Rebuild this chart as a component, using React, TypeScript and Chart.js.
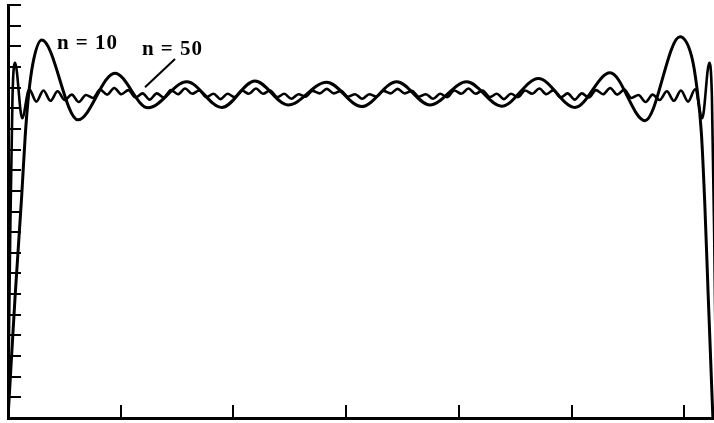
import React, { useEffect, useRef } from 'react';
import { Chart, registerables } from 'chart.js';

Chart.register(...registerables);

// ---- axis ranges / tick steps ----
const X_MIN = 0;
const X_MAX = Math.PI;
const X_STEP = 0.5;
const Y_MIN = 0;
const Y_MAX = 1;
const Y_STEP = 0.05;

// ---- series n = 10 ----
const n10X = [
  0, 0.031, 0.061, 0.076, 0.089, 0.111, 0.150, 0.310, 0.474, 0.621, 0.793, 0.948,
  1.095, 1.242, 1.413, 1.568, 1.724, 1.871, 2.034, 2.189, 2.352, 2.514, 2.670,
  2.825, 2.980, 3.032, 3.055, 3.075, 3.090, 3.105, 3.126,
];
const n10Y = [
  0, 0.29, 0.54, 0.68, 0.77, 0.86, 0.915, 0.722, 0.835, 0.751, 0.814, 0.752,
  0.816, 0.758, 0.813, 0.754, 0.814, 0.758, 0.814, 0.755, 0.822, 0.752, 0.836,
  0.720, 0.923, 0.875, 0.80, 0.69, 0.52, 0.30, 0,
];

// ---- series n = 50 ----
const n50X = [
  0, 0.0100, 0.0200,
  0.0314, 0.0628, 0.0942, 0.1257, 0.1571, 0.1885, 0.2199, 0.2513, 0.2827, 0.3142,
  0.3456, 0.3770, 0.4084, 0.4398, 0.4712, 0.5027, 0.5341, 0.5655, 0.5969, 0.6283,
  0.6597, 0.6912, 0.7226, 0.7540, 0.7854, 0.8168, 0.8482, 0.8796, 0.9111, 0.9425,
  0.9739, 1.0053, 1.0367, 1.0681, 1.0996, 1.1310, 1.1624, 1.1938, 1.2252, 1.2566,
  1.2881, 1.3195, 1.3509, 1.3823, 1.4137, 1.4451, 1.4765, 1.5080, 1.5394, 1.5708,
  1.6022, 1.6336, 1.6650, 1.6965, 1.7279, 1.7593, 1.7907, 1.8221, 1.8535, 1.8850,
  1.9164, 1.9478, 1.9792, 2.0106, 2.0420, 2.0735, 2.1049, 2.1363, 2.1677, 2.1991,
  2.2305, 2.2619, 2.2934, 2.3248, 2.3562, 2.3876, 2.4190, 2.4504, 2.4819, 2.5133,
  2.5447, 2.5761, 2.6075, 2.6389, 2.6704, 2.7018, 2.7332, 2.7646, 2.7960, 2.8274,
  2.8588, 2.8903, 2.9217, 2.9531, 2.9845, 3.0159, 3.0473, 3.0788, 3.1102,
  3.1216, 3.1316, 3.1416,
];
const n50Y = [
  0, 0.45, 0.78,
  0.860, 0.726, 0.796, 0.766, 0.793, 0.768, 0.791, 0.770, 0.783, 0.765,
  0.782, 0.775, 0.795, 0.783, 0.799, 0.784, 0.794, 0.776, 0.786, 0.771,
  0.786, 0.776, 0.794, 0.784, 0.798, 0.785, 0.793, 0.777, 0.785, 0.772,
  0.785, 0.777, 0.793, 0.785, 0.798, 0.785, 0.793, 0.777, 0.785, 0.773,
  0.784, 0.778, 0.792, 0.786, 0.797, 0.786, 0.792, 0.778, 0.784, 0.773,
  0.784, 0.778, 0.792, 0.786, 0.797, 0.786, 0.792, 0.778, 0.784, 0.773,
  0.785, 0.777, 0.793, 0.785, 0.798, 0.785, 0.793, 0.777, 0.785, 0.772,
  0.785, 0.777, 0.793, 0.785, 0.798, 0.784, 0.794, 0.776, 0.786, 0.771,
  0.786, 0.776, 0.794, 0.784, 0.799, 0.783, 0.795, 0.775, 0.782, 0.765,
  0.783, 0.770, 0.791, 0.768, 0.793, 0.766, 0.796, 0.726, 0.860,
  0.78, 0.45, 0,
];

// ---- annotation texts ----
const labelTexts = ['n = 10', 'n = 50'];
// anchor of each text (data coords, left / baseline)
const labelAnchorX = [0.217, 0.594];
const labelAnchorY = [0.893, 0.878];
// leader line for "n = 50" (data coords)
const leaderX = [0.7406, 0.6075];
const leaderY = [0.869, 0.801];

const TICK_LEN = 13;

const decorPlugin = {
  id: 'decor',
  afterDraw(chart: any) {
    const { ctx, chartArea, scales } = chart;
    const xs = scales.x;
    const ys = scales.y;
    ctx.save();
    ctx.strokeStyle = '#000';
    ctx.lineWidth = 2;
    ctx.lineCap = 'butt';
    // inward ticks on the left axis
    ys.ticks.forEach((t: any) => {
      if (t.value <= Y_MIN + 1e-9) return;
      const py = Math.round(ys.getPixelForValue(t.value));
      ctx.beginPath();
      ctx.moveTo(chartArea.left, py);
      ctx.lineTo(chartArea.left + TICK_LEN, py);
      ctx.stroke();
    });
    // inward ticks on the bottom axis
    xs.ticks.forEach((t: any) => {
      if (t.value <= X_MIN + 1e-9) return;
      const px = Math.round(xs.getPixelForValue(t.value));
      ctx.beginPath();
      ctx.moveTo(px, chartArea.bottom);
      ctx.lineTo(px, chartArea.bottom - TICK_LEN);
      ctx.stroke();
    });
    // leader line
    ctx.lineWidth = 2;
    ctx.beginPath();
    ctx.moveTo(xs.getPixelForValue(leaderX[0]), ys.getPixelForValue(leaderY[0]));
    ctx.lineTo(xs.getPixelForValue(leaderX[1]), ys.getPixelForValue(leaderY[1]));
    ctx.stroke();
    // texts
    ctx.fillStyle = '#000';
    ctx.font = 'bold 21px "Liberation Serif", "DejaVu Serif", serif';
    ctx.textAlign = 'left';
    ctx.textBaseline = 'alphabetic';
    try { (ctx as any).letterSpacing = '1px'; } catch (e) { /* ignore */ }
    labelTexts.forEach((txt, i) => {
      ctx.fillText(txt, xs.getPixelForValue(labelAnchorX[i]), ys.getPixelForValue(labelAnchorY[i]));
    });
    ctx.restore();
  },
};

export default function App() {
  const ref = useRef<HTMLCanvasElement | null>(null);

  useEffect(() => {
    if (!ref.current) return;
    const chart = new Chart(ref.current, {
      type: 'line',
      data: {
        datasets: [
          {
            label: 'n = 10',
            data: n10X.map((x, i) => ({ x, y: n10Y[i] })),
            borderColor: '#000',
            borderWidth: 3,
            pointRadius: 0,
            fill: false,
            cubicInterpolationMode: 'monotone',
          },
          {
            label: 'n = 50',
            data: n50X.map((x, i) => ({ x, y: n50Y[i] })),
            borderColor: '#000',
            borderWidth: 2.6,
            pointRadius: 0,
            fill: false,
            cubicInterpolationMode: 'monotone',
          },
        ],
      },
      options: {
        responsive: false,
        animation: false,
        devicePixelRatio: 1,
        layout: { padding: { left: 8, top: 5, right: 5.6, bottom: 5 } },
        plugins: { legend: { display: false }, tooltip: { enabled: false } },
        scales: {
          x: {
            type: 'linear',
            min: X_MIN,
            max: X_MAX,
            ticks: { display: false, stepSize: X_STEP, maxTicksLimit: 100, includeBounds: false },
            grid: { display: true, drawOnChartArea: false, drawTicks: false },
            border: { display: true, color: '#000', width: 3 },
          },
          y: {
            type: 'linear',
            min: Y_MIN,
            max: Y_MAX,
            ticks: { display: false, stepSize: Y_STEP, maxTicksLimit: 100 },
            grid: { display: true, drawOnChartArea: false, drawTicks: false },
            border: { display: true, color: '#000', width: 3 },
          },
        },
      },
      plugins: [decorPlugin],
    } as any);
    return () => chart.destroy();
  }, []);

  return (
    <div
      style={{
        position: 'absolute',
        left: 0,
        top: 0,
        width: 714,
        height: 423,
        overflow: 'hidden',
        background: '#fff',
      }}
    >
      <canvas ref={ref} width={722} height={423} style={{ display: 'block', width: 722, height: 423 }} />
    </div>
  );
}
